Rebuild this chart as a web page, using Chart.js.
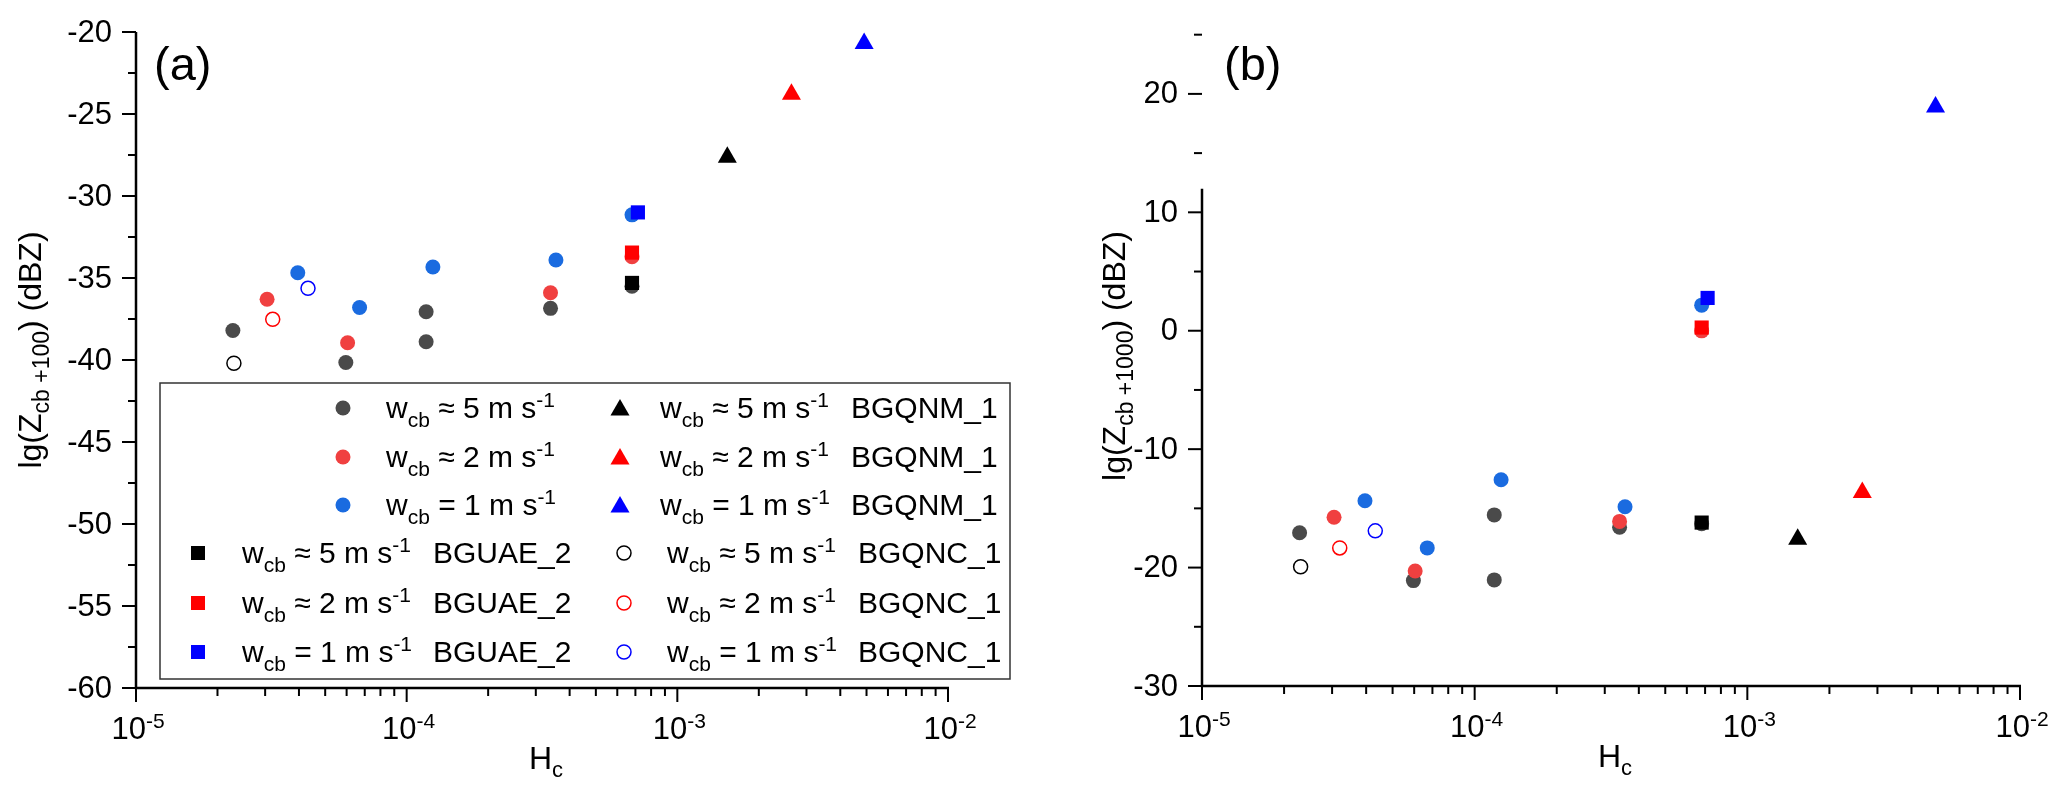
<!DOCTYPE html>
<html>
<head>
<meta charset="utf-8">
<script src="https://cdn.jsdelivr.net/npm/chart.js@4.4.1/dist/chart.umd.min.js"></script>
<style>
  body { margin: 0; background: #fff; }
  #wrap { position: relative; width: 2067px; height: 795px; }
  canvas { position: absolute; top: 0; }
</style>
</head>
<body>
<div id="wrap">
  <canvas id="chartA" width="1030" height="795" style="left:0px"></canvas>
  <canvas id="chartB" width="1037" height="795" style="left:1030px"></canvas>
</div>
<script>
const FONT = '"Liberation Sans", Arial, sans-serif';

// Hc of each group (x values)
let hcW5 = [2.28e-5, 5.96e-5, 1.18e-4, 1.18e-4, 3.4e-4, 6.8e-4];
let hcW2 = [3.05e-5, 6.05e-5, 3.4e-4, 6.8e-4];
let hcW1 = [3.96e-5, 6.7e-5, 1.25e-4, 3.56e-4, 6.8e-4];
let hcUae = [6.8e-4, 6.8e-4, 7.15e-4];     // BGUAE_2: w5, w2, w1
let hcQnc = [2.3e-5, 3.2e-5, 4.32e-5];     // BGQNC_1: w5, w2, w1
let hcQnm = [1.53e-3, 2.64e-3, 4.9e-3];    // BGQNM_1: w5, w2, w1

// panel (a): lg(Zcb+100)
let aW5 = [-38.2, -40.15, -37.06, -38.89, -36.85, -35.5];
let aW2 = [-36.3, -38.95, -35.9, -33.7];
let aW1 = [-34.68, -36.8, -34.33, -33.9, -31.15];
let aUae = [-35.3, -33.45, -31.0];
let aQnc = [-40.2, -37.52, -35.63];
let aQnm = [-27.63, -23.79, -20.7];

// panel (b): lg(Zcb+1000)
let bW5 = [-17.06, -21.1, -15.55, -21.04, -16.6, -16.3];
let bW2 = [-15.75, -20.29, -16.1, -0.01];
let bW1 = [-14.36, -18.34, -12.58, -14.86, 2.16];
let bUae = [-16.2, 0.27, 2.77];
let bQnc = [-19.93, -18.34, -16.9];
let bQnm = [-17.6, -13.65, 18.9];

// tick values
let xDecades = [-5, -4, -3, -2];
let aYMajor = [-60, -55, -50, -45, -40, -35, -30, -25, -20];
let aYMinor = [-57.5, -52.5, -47.5, -42.5, -37.5, -32.5, -27.5, -22.5];
let bYMajor = [-30, -20, -10, 0, 10, 20];
let bYMinor = [-25, -15, -5, 5, 15, 25];

// legend
let speedText = [" \u2248 5 m s", " \u2248 2 m s", " = 1 m s"];

const gray = "#4a4a4a";
const red = "#f04040";
const blue = "#1a6be0";
const symCols = ["#000000", "#ff0000", "#0000ff"];
const circCols = [gray, red, blue];

function pts(xs, ys) {
  return xs.map((x, i) => ({ x: x, y: ys[i] }));
}

function onePerColor(xs, ys, k) {
  return [{ x: xs[k], y: ys[k] }];
}

function makeDatasets(w5, w2, w1, uae, qnc, qnm) {
  let sets = [];
  sets.push({ data: pts(hcW5, w5), backgroundColor: gray, pointStyle: "circle", pointRadius: 7.5, order: 9 });
  sets.push({ data: pts(hcW2, w2), backgroundColor: red, pointStyle: "circle", pointRadius: 7.5, order: 8 });
  sets.push({ data: pts(hcW1, w1), backgroundColor: blue, pointStyle: "circle", pointRadius: 7.5, order: 7 });
  for (let k = 0; k < 3; k++) {
    sets.push({ data: onePerColor(hcUae, uae, k), backgroundColor: symCols[k], pointStyle: "rect", pointRadius: 10, order: 6 - k });
    sets.push({ data: onePerColor(hcQnc, qnc, k), backgroundColor: "rgba(0,0,0,0)", borderColor: symCols[k],
      pointBorderWidth: 1.5, pointStyle: "circle", pointRadius: 7, order: 3 });
    sets.push({ data: onePerColor(hcQnm, qnm, k), backgroundColor: symCols[k], pointStyle: "triangle", pointRadius: 11, order: 1 });
  }
  sets.forEach(s => {
    s.showLine = false;
    s.clip = false;
    if (s.pointBorderWidth === undefined) s.pointBorderWidth = 0;
  });
  return sets;
}

// text with sub/superscripts: parts = [text, size, dy]
function drawRich(ctx, parts, x, y, align) {
  let total = 0;
  parts.forEach(p => {
    ctx.font = p[1] + "px " + FONT;
    total += ctx.measureText(p[0]).width;
  });
  let cx = x;
  if (align === "center") cx = x - total / 2;
  if (align === "right") cx = x - total;
  ctx.textAlign = "left";
  ctx.textBaseline = "alphabetic";
  parts.forEach(p => {
    ctx.font = p[1] + "px " + FONT;
    ctx.fillText(p[0], cx, y + (p[2] || 0));
    cx += ctx.measureText(p[0]).width;
  });
}

function marker(ctx, style, x, y, color, open) {
  ctx.save();
  ctx.fillStyle = color;
  ctx.strokeStyle = color;
  ctx.beginPath();
  if (style === "circle") {
    ctx.arc(x, y, open ? 7 : 7.5, 0, Math.PI * 2);
  } else if (style === "rect") {
    ctx.rect(x - 7, y - 7, 14, 14);
  } else {
    let r = 11;
    ctx.moveTo(x, y - r);
    ctx.lineTo(x + r * 0.866, y + r / 2);
    ctx.lineTo(x - r * 0.866, y + r / 2);
    ctx.closePath();
  }
  if (open) {
    ctx.lineWidth = 1.5;
    ctx.stroke();
  } else {
    ctx.fill();
  }
  ctx.restore();
}

function speedParts(k) {
  return [["w", 30, 0], ["cb", 21, 9], [speedText[k], 30, 0], ["-1", 21, -11]];
}

function drawLegend(ctx) {
  let rowY = [408, 457, 505, 553, 603, 652];
  ctx.save();
  ctx.strokeStyle = "#333";
  ctx.lineWidth = 1.5;
  ctx.strokeRect(160, 383, 850, 296);
  ctx.fillStyle = "#000";
  for (let k = 0; k < 3; k++) {
    // circles / triangles
    let y = rowY[k];
    marker(ctx, "circle", 343, y, circCols[k], false);
    drawRich(ctx, speedParts(k), 386, y + 10, "left");
    marker(ctx, "triangle", 620, y + 2, symCols[k], false);
    drawRich(ctx, speedParts(k), 660, y + 10, "left");
    drawRich(ctx, [["BGQNM_1", 30, 0]], 851, y + 10, "left");
    // squares / open circles
    y = rowY[k + 3];
    marker(ctx, "rect", 198, y, symCols[k], false);
    drawRich(ctx, speedParts(k), 242, y + 10, "left");
    drawRich(ctx, [["BGUAE_2", 30, 0]], 433, y + 10, "left");
    marker(ctx, "circle", 624, y, symCols[k], true);
    drawRich(ctx, speedParts(k), 667, y + 10, "left");
    drawRich(ctx, [["BGQNC_1", 30, 0]], 858, y + 10, "left");
  }
  ctx.restore();
}

// axes, ticks, labels drawn from the chart's scales
function axesPlugin(cfg) {
  return {
    id: "axes",
    afterDraw(chart) {
      const ctx = chart.ctx;
      const xs = chart.scales.x;
      const ys = chart.scales.y;
      const area = chart.chartArea;
      ctx.save();
      ctx.strokeStyle = "#000";
      ctx.fillStyle = "#000";

      // axis lines
      ctx.lineWidth = 2.5;
      ctx.beginPath();
      ctx.moveTo(area.left, ys.getPixelForValue(cfg.lineTop));
      ctx.lineTo(area.left, area.bottom);
      ctx.lineTo(area.right + 1, area.bottom);
      ctx.stroke();

      // x ticks
      ctx.lineWidth = 2;
      xDecades.forEach(d => {
        let px = xs.getPixelForValue(Math.pow(10, d));
        ctx.beginPath();
        ctx.moveTo(px, area.bottom);
        ctx.lineTo(px, area.bottom + 14);
        ctx.stroke();
        drawRich(ctx, [["10", 31, 0], [String(d), 21, -11]], px + 2, area.bottom + 51, "center");
        if (d < -2) {
          for (let m = 2; m <= 9; m++) {
            let mx = xs.getPixelForValue(m * Math.pow(10, d));
            ctx.beginPath();
            ctx.moveTo(mx, area.bottom);
            ctx.lineTo(mx, area.bottom + 8);
            ctx.stroke();
          }
        }
      });

      // y ticks
      cfg.yMajor.forEach(v => {
        let py = ys.getPixelForValue(v);
        ctx.beginPath();
        ctx.moveTo(area.left - 14, py);
        ctx.lineTo(area.left, py);
        ctx.stroke();
        ctx.textAlign = "right";
        ctx.textBaseline = "middle";
        ctx.font = "31px " + FONT;
        ctx.fillText(String(v), area.left - 24, py + 1);
      });
      cfg.yMinor.forEach(v => {
        let py = ys.getPixelForValue(v);
        ctx.beginPath();
        ctx.moveTo(area.left - 8, py);
        ctx.lineTo(area.left, py);
        ctx.stroke();
      });

      // axis titles
      drawRich(ctx, [["H", 32, 0], ["c", 22, 8]], (area.left + area.right) / 2 + 4, area.bottom + 81, "center");
      ctx.save();
      ctx.translate(cfg.titleX, cfg.titleY);
      ctx.rotate(-Math.PI / 2);
      drawRich(ctx, cfg.yTitle, 0, 0, "center");
      ctx.restore();

      // panel letter
      ctx.font = "47px " + FONT;
      ctx.textAlign = "left";
      ctx.textBaseline = "alphabetic";
      ctx.fillText(cfg.letter, cfg.letterX, 80);

      if (cfg.legend) drawLegend(ctx);
      ctx.restore();
    }
  };
}

function makeChart(id, datasets, yMin, yMax, pad, cfg) {
  const ctx = document.getElementById(id).getContext("2d");
  return new Chart(ctx, {
    type: "scatter",
    data: { datasets: datasets },
    options: {
      responsive: false,
      animation: false,
      devicePixelRatio: 1,
      events: [],
      layout: { padding: pad },
      plugins: { legend: { display: false }, tooltip: { enabled: false } },
      scales: {
        x: { type: "logarithmic", min: 1e-5, max: 1e-2, display: false },
        y: { type: "linear", min: yMin, max: yMax, display: false }
      }
    },
    plugins: [axesPlugin(cfg)]
  });
}

// Panel (a)
const chartA = makeChart("chartA", makeDatasets(aW5, aW2, aW1, aUae, aQnc, aQnm), -60, -20,
  { left: 136, right: 82, top: 32, bottom: 107 },
  {
    lineTop: -20, yMajor: aYMajor, yMinor: aYMinor,
    yTitle: [["lg(Z", 32, 0], ["cb +100", 23, 8], [") (dBZ)", 32, 0]],
    titleX: 41, titleY: 350, letter: "(a)", letterX: 154, legend: true
  });

// Panel (b)
const chartB = makeChart("chartB", makeDatasets(bW5, bW2, bW1, bUae, bQnc, bQnm), -30, 27,
  { left: 172, right: 47, top: 3, bottom: 109 },
  {
    lineTop: 12, yMajor: bYMajor, yMinor: bYMinor,
    yTitle: [["lg(Z", 32, 0], ["cb +1000", 23, 8], [") (dBZ)", 32, 0]],
    titleX: 95, titleY: 356, letter: "(b)", letterX: 194, legend: false
  });
</script>
</body>
</html>
